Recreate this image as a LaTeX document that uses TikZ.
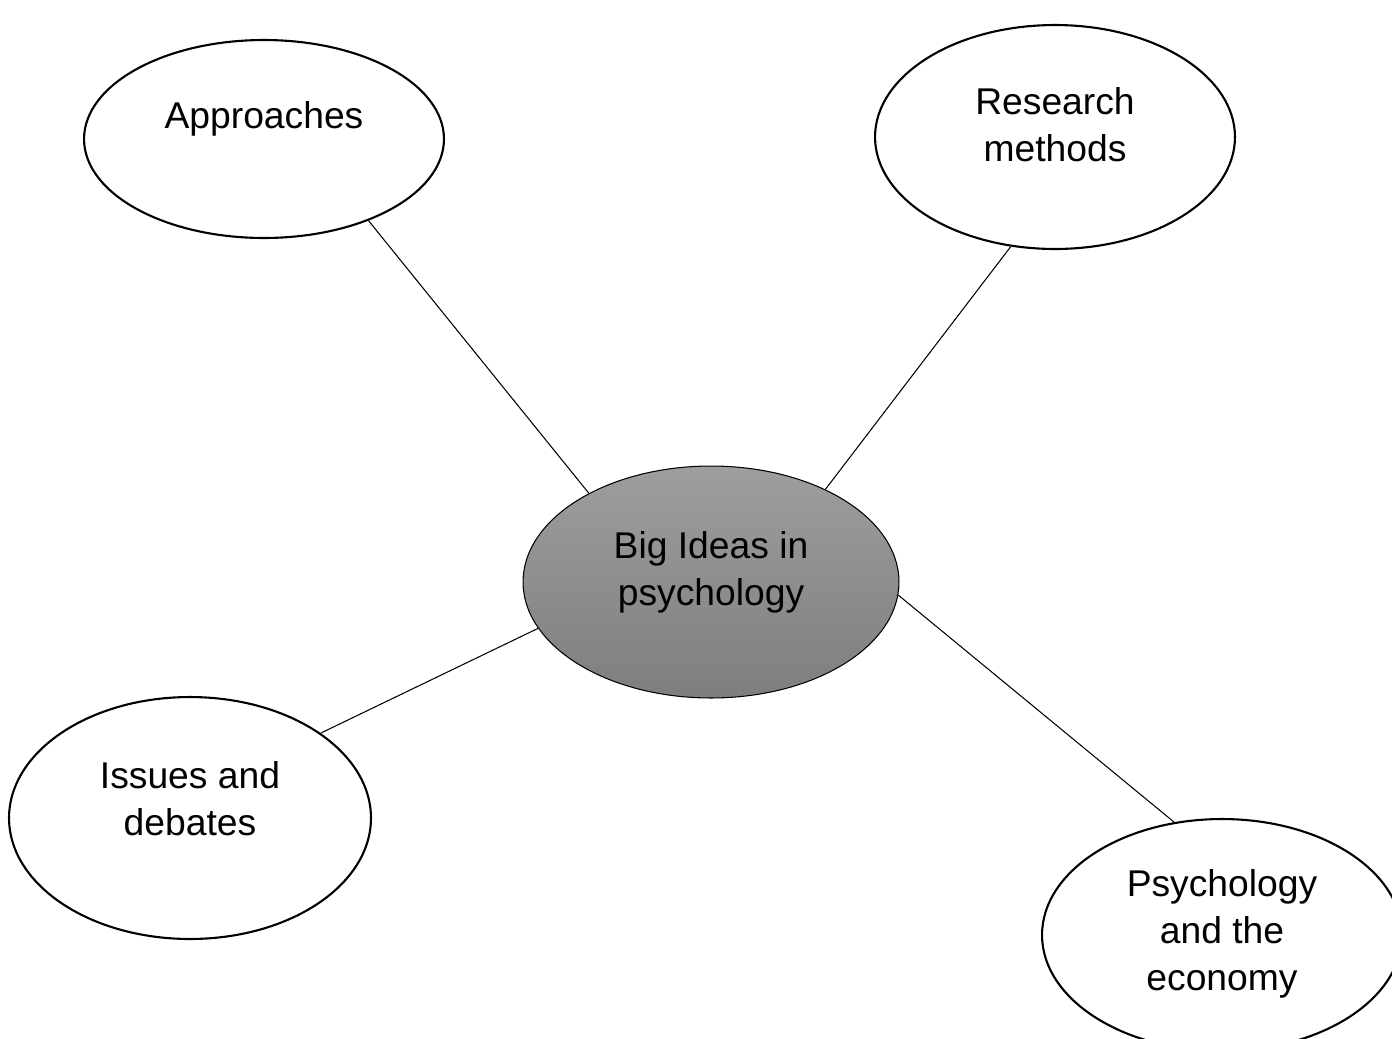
\documentclass[tikz,border=0pt]{standalone}
\usepackage{fontspec}
\setmainfont{Liberation Sans}
\usetikzlibrary{shapes.geometric}
\definecolor{hubtop}{RGB}{158,158,158}
\definecolor{hubbottom}{RGB}{126,126,126}
\begin{document}
\begin{tikzpicture}[x=0.02cm, y=-0.02cm,
  bubble/.style={ellipse, draw=black, line width=1.2pt, fill=white, inner sep=0pt},
  hub/.style={ellipse, draw=black, line width=0.6pt, inner sep=0pt,
    top color=hubtop, bottom color=hubbottom},
  lbl/.style={anchor=base, align=center, inner sep=0pt,
    font=\fontsize{21.2}{26.5}\selectfont},
  link/.style={draw=black, line width=0.6pt}]
  \clip (0,0) rectangle (1392,1038);
  \fill[white] (0,0) rectangle (1392,1038);

  % central topic and the four branches
  \node[hub, minimum width=7.52cm, minimum height=4.64cm] (big) at (711,582) {};
  \node[bubble, minimum width=7.2cm, minimum height=3.96cm] (appr) at (264,139) {};
  \node[bubble, minimum width=7.2cm, minimum height=4.48cm] (res) at (1055,137) {};
  \node[bubble, minimum width=7.24cm, minimum height=4.84cm] (iss) at (190,818) {};
  \node[bubble, minimum width=7.2cm, minimum height=4.64cm] (psy) at (1222,935) {};

  % texts (base anchor sits on the last line)
  \node[lbl] (bigtxt) at ([yshift=-0.46cm]big.center) {Big Ideas in\\psychology};
  \node[lbl] (apprtxt) at ([yshift=0.22cm]appr.center) {Approaches};
  \node[lbl] (restxt) at ([yshift=-0.49cm]res.center) {Research\\methods};
  \node[lbl] (isstxt) at ([yshift=-0.34cm]iss.center) {Issues and\\debates};
  \node[lbl] (psytxt) at ([yshift=-1.10cm]psy.center) {Psychology\\and the\\economy};

  % connectors
  \draw[link] (appr.-38.7) -- (big.144.1);
  \draw[link] (res.-112.1) -- (big.39.4);
  \draw[link] (iss.33.8) -- (big.-165);
  \draw[link] (psy.113.1) -- (big.-4.7);
\end{tikzpicture}
\end{document}
